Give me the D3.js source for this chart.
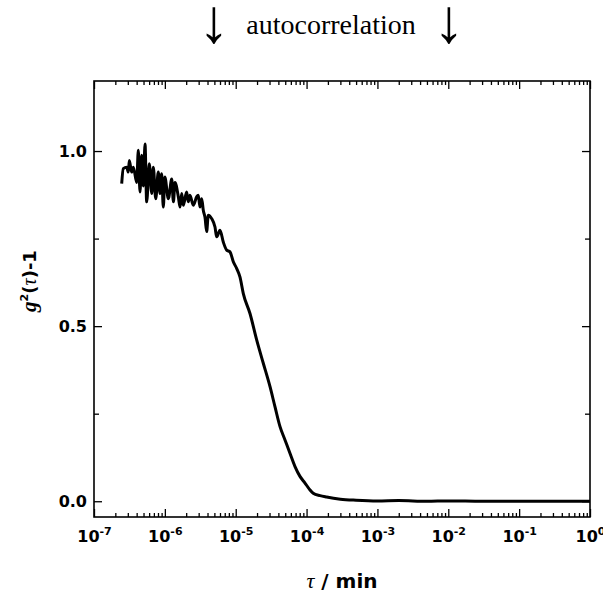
<!DOCTYPE html>
<html>
<head>
<meta charset="utf-8">
<script src="https://cdn.jsdelivr.net/npm/d3@7"></script>
<style>
  body { margin: 0; background: #fff; }
  svg { display: block; }
  .tick line { stroke: #000; stroke-width: 1.3; }
  .tick text { font-family: "DejaVu Sans", sans-serif; font-weight: bold; fill: #000; }
</style>
</head>
<body>
<div class="chart"></div>
<script>
"use strict";

// Lag time (min) and g2(tau)-1
const tau = [
  2.46e-7, 2.59e-7, 2.89e-7, 3.05e-7, 3.15e-7, 3.40e-7, 3.59e-7, 4.01e-7, 4.22e-7, 4.46e-7,
  4.71e-7, 4.97e-7, 5.25e-7, 5.54e-7, 6.03e-7, 6.52e-7, 6.87e-7, 7.43e-7, 8.08e-7, 8.54e-7,
  9.02e-7, 9.51e-7, 1.00e-6, 1.12e-6, 1.25e-6, 1.32e-6, 1.39e-6, 1.55e-6, 1.64e-6, 1.73e-6,
  1.82e-6, 2.03e-6, 2.14e-6, 2.26e-6, 2.52e-6, 2.81e-6, 2.96e-6, 3.13e-6, 3.31e-6, 3.49e-6,
  3.69e-6, 3.89e-6, 4.10e-6, 4.58e-6, 5.10e-6, 5.39e-6, 6.00e-6, 6.68e-6, 7.46e-6, 8.30e-6,
  9.25e-6, 1.03e-5, 1.15e-5, 1.28e-5, 1.59e-5, 1.98e-5, 2.45e-5, 3.05e-5, 3.58e-5, 4.22e-5,
  4.96e-5, 5.83e-5, 6.87e-5, 8.07e-5, 9.50e-5, 1.10e-4, 1.24e-4, 1.55e-4, 1.92e-4, 3.0e-4,
  5.0e-4, 1.0e-3, 2.0e-3, 5.0e-3, 1.0e-2, 3.0e-2, 1.0e-1, 3.0e-1, 1.0
];
const g2 = [
  0.907, 0.950, 0.954, 0.940, 0.973, 0.940, 0.954, 0.910, 1.002, 0.883,
  0.988, 0.900, 1.020, 0.855, 0.964, 0.879, 0.954, 0.864, 0.940, 0.879,
  0.935, 0.840, 0.926, 0.864, 0.920, 0.855, 0.910, 0.869, 0.840, 0.879,
  0.845, 0.883, 0.855, 0.874, 0.845, 0.869, 0.874, 0.840, 0.864, 0.830,
  0.810, 0.770, 0.817, 0.807, 0.783, 0.755, 0.774, 0.740, 0.717, 0.712,
  0.684, 0.665, 0.640, 0.593, 0.536, 0.460, 0.394, 0.327, 0.270, 0.213,
  0.175, 0.137, 0.099, 0.071, 0.052, 0.034, 0.023, 0.016, 0.012, 0.006,
  0.003, 0.001, 0.002, 0.000, 0.001, 0.000, 0.000, 0.000, 0.000
];

const xMajorTicks = [1e-7, 1e-6, 1e-5, 1e-4, 1e-3, 1e-2, 1e-1, 1];
const xTickExponents = ["-7", "-6", "-5", "-4", "-3", "-2", "-1", "0"];
const yMajorTicks = [0, 0.5, 1.0];
const yMinorTicks = [0.25, 0.75];

const data = tau.map((t, i) => ({ tau: t, g: g2[i] }));

const width = 603;
const height = 600;
const margin = { top: 81, right: 13, bottom: 83, left: 94 };
const innerWidth = width - margin.left - margin.right;
const innerHeight = height - margin.top - margin.bottom;

const svg = d3.select(".chart")
  .append("svg")
    .attr("width", width)
    .attr("height", height);

const inner = svg.append("g")
  .attr("transform", `translate(${margin.left}, ${margin.top})`);

const xScale = d3.scaleLog()
  .domain([1e-7, 1])
  .range([0, innerWidth]);

const yScale = d3.scaleLinear()
  .domain([-0.045, 1.2])
  .range([innerHeight, 0]);

// minor log ticks 2..9 x 10^k
const xMinorTicks = [];
for (let k = -7; k < 0; k++) {
  for (let m = 2; m <= 9; m++) xMinorTicks.push(m * Math.pow(10, k));
}

// bottom axis with labels
const xAxis = inner.append("g")
  .attr("class", "axis-x")
  .attr("transform", `translate(0, ${innerHeight})`)
  .call(d3.axisBottom(xScale).tickValues(xMajorTicks).tickSize(-8).tickPadding(14).tickFormat(""));

xAxis.selectAll(".tick text")
  .attr("font-size", 16)
  .each(function(d, i) {
    const t = d3.select(this);
    t.append("tspan").text("10");
    t.append("tspan").attr("dy", -7).attr("font-size", 11).text(xTickExponents[i]);
  });

// minor ticks and mirrored ticks on the other sides
inner.append("g")
  .attr("transform", `translate(0, ${innerHeight})`)
  .call(d3.axisBottom(xScale).tickValues(xMinorTicks).tickSize(-4).tickFormat(""));
inner.append("g")
  .call(d3.axisTop(xScale).tickValues(xMajorTicks).tickSize(-8).tickFormat(""));
inner.append("g")
  .call(d3.axisTop(xScale).tickValues(xMinorTicks).tickSize(-4).tickFormat(""));

inner.append("g")
  .attr("class", "axis-y")
  .call(d3.axisLeft(yScale).tickValues(yMajorTicks).tickSize(-8).tickPadding(7).tickFormat(d3.format(".1f")))
  .selectAll(".tick text")
    .attr("font-size", 16);
inner.append("g")
  .call(d3.axisLeft(yScale).tickValues(yMinorTicks).tickSize(-5).tickFormat(""));
inner.append("g")
  .attr("transform", `translate(${innerWidth}, 0)`)
  .call(d3.axisRight(yScale).tickValues(yMajorTicks).tickSize(-8).tickFormat(""));
inner.append("g")
  .attr("transform", `translate(${innerWidth}, 0)`)
  .call(d3.axisRight(yScale).tickValues(yMinorTicks).tickSize(-5).tickFormat(""));

inner.selectAll(".domain").remove();
// drop the empty labels of the unlabelled tick sets
inner.selectAll(".tick text").filter(function() { return this.textContent === ""; }).remove();

// frame
inner.append("rect")
  .attr("width", innerWidth)
  .attr("height", innerHeight)
  .attr("fill", "none")
  .attr("stroke", "#000")
  .attr("stroke-width", 1.6);

// the curve
const lineGenerator = d3.line()
  .x(d => xScale(d.tau))
  .y(d => yScale(d.g))
  .curve(d3.curveMonotoneX);

inner.append("path")
  .attr("d", lineGenerator(data))
  .attr("fill", "none")
  .attr("stroke", "#000")
  .attr("stroke-width", 3)
  .attr("stroke-linejoin", "round");

// title
svg.append("text")
  .attr("x", 331)
  .attr("y", 34)
  .attr("text-anchor", "middle")
  .attr("font-family", "'Liberation Serif', serif")
  .attr("font-size", 28)
  .text("autocorrelation");

svg.selectAll(".arrow")
  .data([214, 449])
  .join("text")
    .attr("class", "arrow")
    .attr("x", d => d)
    .attr("y", 42)
    .attr("text-anchor", "middle")
    .attr("font-family", "'Liberation Serif', serif")
    .attr("font-size", 62)
    .text("↓");

// x label
const xLabel = svg.append("text")
  .attr("x", margin.left + innerWidth / 2)
  .attr("y", 588)
  .attr("text-anchor", "middle")
  .attr("font-size", 20);
xLabel.append("tspan").attr("font-family", "'Liberation Serif', serif").attr("font-style", "italic").attr("font-size", 22).text("τ");
xLabel.append("tspan").attr("font-family", "'DejaVu Sans', sans-serif").attr("font-weight", "bold").text(" / min");

// y label
const yLabel = svg.append("text")
  .attr("transform", `translate(36, ${margin.top + 200}) rotate(-90)`)
  .attr("text-anchor", "middle")
  .attr("font-family", "'DejaVu Sans', sans-serif")
  .attr("font-weight", "bold")
  .attr("font-size", 18);
yLabel.append("tspan").attr("font-family", "'Liberation Serif', serif").attr("font-style", "italic").attr("font-weight", "bold").attr("font-size", 21).text("g");
yLabel.append("tspan").attr("dy", -8).attr("font-size", 11).text("2");
yLabel.append("tspan").attr("dy", 8).text("(");
yLabel.append("tspan").attr("font-family", "'Liberation Serif', serif").attr("font-style", "italic").attr("font-weight", "normal").attr("font-size", 20).text("τ");
yLabel.append("tspan").text(")-1");
</script>
</body>
</html>
